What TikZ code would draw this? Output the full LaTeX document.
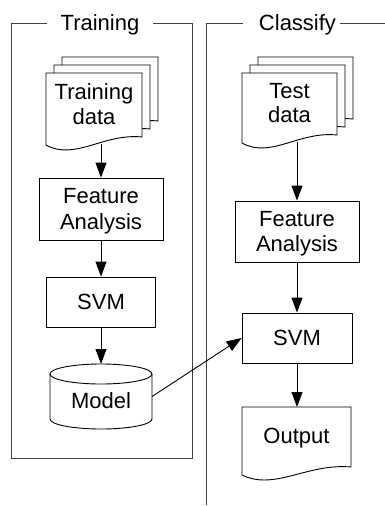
\documentclass[tikz,border=0pt]{standalone}
\usepackage{fontspec}
\setmainfont{Liberation Sans}
\usetikzlibrary{arrows.meta}

% one page of a document symbol: top-left corner, width, left height
\newcommand\docpage[4]{%
  \draw[line,fill=white] (#1,#2) -- ({#1+#3},#2) -- ({#1+#3},{#2+#4-8})
    .. controls ({#1+0.6*#3},{#2+#4-12}) and ({#1+0.3*#3},{#2+#4+16}) .. (#1,{#2+#4}) -- cycle;}

\begin{document}
\begin{tikzpicture}[x=1pt,y=-1pt,
  line/.style={line width=0.9pt,draw=black},
  frame/.style={line width=1pt,draw=black!75},
  box/.style={line,fill=white,inner sep=0pt,font=\fontsize{22}{25.5}\selectfont,
              align=center,text depth=0pt},
  spot/.style={inner sep=0pt,outer sep=0pt,draw=none},
  txt/.style={inner sep=0pt,font=\fontsize{22}{24.5}\selectfont,align=center,text depth=0pt},
  title/.style={inner sep=0pt,font=\fontsize{22}{25}\selectfont},
  arr/.style={line,-{Triangle[length=15pt,width=11pt]}}]

\useasboundingbox (0,0) rectangle (385,506);

% section frames and their titles
\node[title] (ttitle) at (100,24.5) {Training};
\node[title] (ctitle) at (297.5,25) {Classify};
\draw[frame] (47,23) -- (11,23) -- (11,458) -- (192,458) -- (192,23) -- (153,23);
\draw[frame] (243,23) -- (206,23) -- (206,505);
\draw[frame] (340,23) -- (385,23);

% training column
\docpage{62}{57}{96}{72}
\docpage{54}{65}{96}{72}
\docpage{46}{73}{96}{72}
\node[spot,minimum width=112pt,minimum height=87pt] (trainset) at (101,100.5) {};
\node[txt] (trainlbl) at (94,104) {Training\\data};

\node[box,minimum width=124pt,minimum height=62pt] (fa1) at (101,209) {Feature\\Analysis};
\node[box,minimum width=109pt,minimum height=50pt] (svm1) at (101,302) {SVM};

% model store (cylinder)
\draw[line,fill=white] (50,374) -- (50,419)
  arc[start angle=180,end angle=360,x radius=51pt,y radius=10pt] -- (152,374)
  arc[start angle=0,end angle=180,x radius=51pt,y radius=10pt] -- cycle;
\draw[line] (50,374) arc[start angle=180,end angle=360,x radius=51pt,y radius=10pt];
\node[spot,minimum width=102pt,minimum height=65pt] (model) at (101,396.5) {};
\node[txt] (modellbl) at (101,401) {Model};

% classify column
\docpage{258}{57}{95}{70}
\docpage{250}{65}{95}{70}
\docpage{242}{73}{95}{70}
\node[spot,minimum width=110pt,minimum height=85pt] (testset) at (297,99.5) {};
\node[txt] (testlbl) at (289.5,103) {Test\\data};

\node[box,minimum width=124pt,minimum height=61pt] (fa2) at (297,231.5) {Feature\\Analysis};
\node[box,minimum width=110pt,minimum height=50pt] (svm2) at (297,338) {SVM};

\docpage{242}{407}{109}{68}
\node[spot,minimum width=109pt,minimum height=68pt] (outdoc) at (296.5,441) {};
\node[txt] (outlbl) at (296.5,435.5) {Output};

% connectors
\draw[arr] (trainset.south) -- (fa1.north);
\draw[arr] (fa1.south) -- (svm1.north -| fa1.south);
\draw[arr] (svm1.south -| model.north) -- (model.north);
\draw[arr] (testset.south) -- (fa2.north);
\draw[arr] (fa2.south) -- (svm2.north);
\draw[arr] (svm2.south) -- (outdoc.north -| svm2.south);
\draw[arr] (model.east) -- (svm2.west);
\end{tikzpicture}
\end{document}
